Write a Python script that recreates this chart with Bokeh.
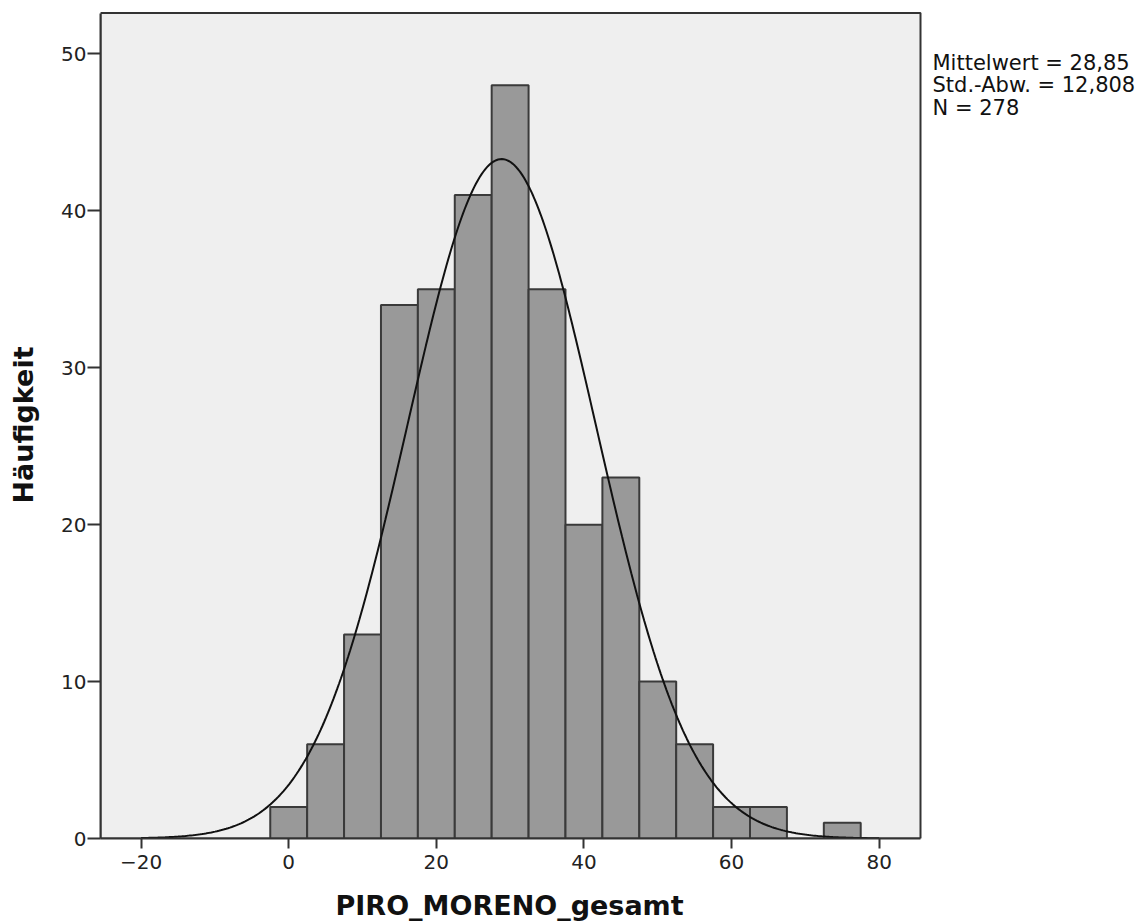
import numpy as np
from bokeh.plotting import figure
from bokeh.models import Range1d, Label, FixedTicker, Title
from bokeh.embed import file_html
from bokeh.resources import INLINE

# Histogram data (bin centers, width 5)
bin_centers = [0, 5, 10, 15, 20, 25, 30, 35, 40, 45, 50, 55, 60, 65, 70, 75]
counts = [2, 6, 13, 34, 35, 41, 48, 35, 20, 23, 10, 6, 2, 2, 0, 1]
bin_width = 5
mean_val = 28.85
std_val = 12.808
n_val = 278
x_ticks = [-20, 0, 20, 40, 60, 80]
y_ticks = [0, 10, 20, 30, 40, 50]
stats_lines = ["Mittelwert = 28,85", "Std.-Abw. = 12,808", "N = 278"]
x_label = "PIRO_MORENO_gesamt"
y_label = "Häufigkeit"

x_lo, x_hi = -25.5, 85.6   # visible plot-area extent
y_lo, y_hi = 0, 52.6
px_per_x = 820 / (x_hi - x_lo)
x_canvas_end = x_lo + 1044 / px_per_x

p = figure(width=1144, height=924, output_backend="svg", toolbar_location=None,
           x_range=Range1d(x_lo, x_canvas_end), y_range=Range1d(y_lo, 52.7),
           min_border_left=100, min_border_right=0, min_border_top=11, min_border_bottom=86)

p.background_fill_color = "white"
p.border_fill_color = "white"
p.outline_line_color = None
p.grid.visible = False

# plot area panel
p.quad(left=[x_lo], right=[x_hi], bottom=[y_lo], top=[y_hi],
       fill_color="#efefef", line_color="#333333", line_width=2)

# bars
bc = [c for c, k in zip(bin_centers, counts) if k > 0]
bk = [k for k in counts if k > 0]
p.quad(left=[c - bin_width / 2 for c in bc], right=[c + bin_width / 2 for c in bc],
       bottom=0, top=bk, fill_color="#999999", line_color="#3a3a3a", line_width=2)

# normal curve
xs = np.linspace(-20, 80, 400)
ys = n_val * bin_width * np.exp(-0.5 * ((xs - mean_val) / std_val) ** 2) / (std_val * np.sqrt(2 * np.pi))
p.line(xs, ys, line_color="#111111", line_width=2)

for ax in (p.xaxis[0], p.yaxis[0]):
    ax.axis_line_color = "#333333"
    ax.axis_line_width = 2
    ax.major_tick_line_color = "#333333"
    ax.major_tick_line_width = 2
    ax.major_tick_in = 0
    ax.minor_tick_line_color = None
    ax.major_label_text_font = "DejaVu Sans"
    ax.major_label_text_font_size = "20px"
    ax.major_label_text_color = "#222222"
    ax.axis_label_text_font = "DejaVu Sans"
    ax.axis_label_text_font_style = "bold"
    ax.axis_label_text_font_size = "27px"
    ax.axis_label_text_color = "#111111"

p.xaxis.bounds = (x_lo, x_hi)
p.yaxis.bounds = (y_lo, y_hi)
p.xaxis.ticker = FixedTicker(ticks=x_ticks)
p.yaxis.ticker = FixedTicker(ticks=y_ticks)
p.xaxis.major_tick_out = 10
p.yaxis.major_tick_out = 13
p.xaxis.major_label_standoff = 6
p.yaxis.major_label_standoff = 1
p.yaxis.axis_label = y_label
p.yaxis.axis_label_standoff = 19

# small spacer below the x tick labels
p.xaxis.axis_label = " "
p.xaxis.axis_label_text_font_size = "1px"
p.xaxis.axis_label_standoff = 11

# x-axis title, centred under the visible plot area
p.add_layout(Title(text=x_label, align="left", offset=235, text_font="DejaVu Sans",
                   text_font_style="bold", text_font_size="27px", text_color="#111111",
                   standoff=2), "below")

x_text = x_lo + 832 / px_per_x
y_scale = (924 - 11 - 86) / 52.7
for i, t in enumerate(stats_lines):
    p.add_layout(Label(x=x_text, y=52.7 - (51 + 22.5 * i) / y_scale, text=t,
                       text_font="DejaVu Sans", text_font_size="21px", text_color="#111111",
                       text_baseline="alphabetic"))

open("out.html", "w").write(file_html(p, INLINE))
